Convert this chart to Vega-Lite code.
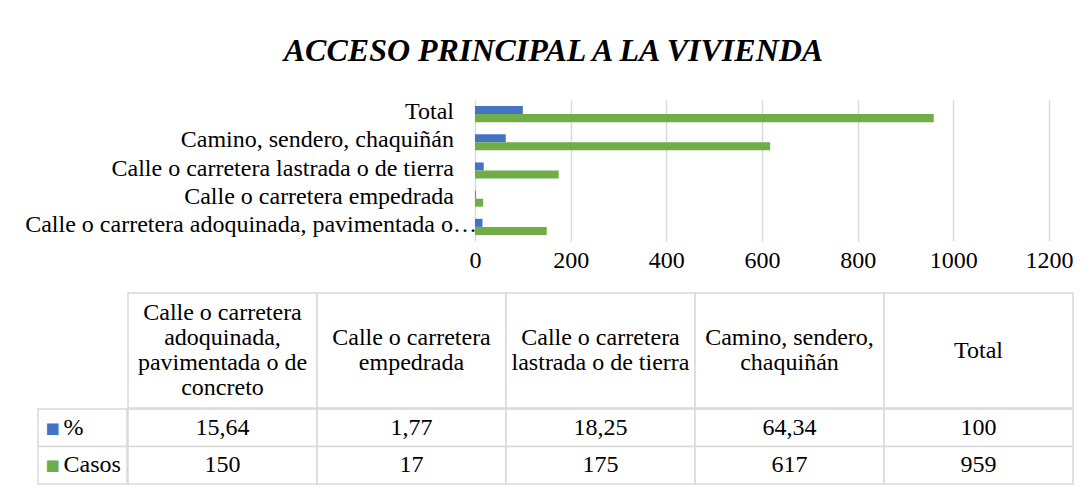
{
  "$schema": "https://vega.github.io/schema/vega-lite/v6.json",
  "background": "white",
  "padding": {"left": 25, "top": 35, "right": 8, "bottom": 5},
  "title": {
    "text": "ACCESO PRINCIPAL A LA VIVIENDA",
    "font": "Liberation Serif",
    "fontSize": 32,
    "fontStyle": "italic",
    "fontWeight": "bold",
    "color": "black",
    "anchor": "middle",
    "baseline": "top",
    "dx": 4,
    "offset": 32
  },
  "datasets": {
    "datos": [
      {"categoria": "Calle o carretera adoquinada, pavimentada o de concreto", "etiqueta": "Calle o carretera adoquinada, pavimentada o…", "cabecera": "Calle o carretera\nadoquinada,\npavimentada o de\nconcreto", "serie": "%", "valor": 15.64},
      {"categoria": "Calle o carretera adoquinada, pavimentada o de concreto", "etiqueta": "Calle o carretera adoquinada, pavimentada o…", "cabecera": "Calle o carretera\nadoquinada,\npavimentada o de\nconcreto", "serie": "Casos", "valor": 150},
      {"categoria": "Calle o carretera empedrada", "etiqueta": "Calle o carretera empedrada", "cabecera": "Calle o carretera\nempedrada", "serie": "%", "valor": 1.77},
      {"categoria": "Calle o carretera empedrada", "etiqueta": "Calle o carretera empedrada", "cabecera": "Calle o carretera\nempedrada", "serie": "Casos", "valor": 17},
      {"categoria": "Calle o carretera lastrada o de tierra", "etiqueta": "Calle o carretera lastrada o de tierra", "cabecera": "Calle o carretera\nlastrada o de tierra", "serie": "%", "valor": 18.25},
      {"categoria": "Calle o carretera lastrada o de tierra", "etiqueta": "Calle o carretera lastrada o de tierra", "cabecera": "Calle o carretera\nlastrada o de tierra", "serie": "Casos", "valor": 175},
      {"categoria": "Camino, sendero, chaquiñán", "etiqueta": "Camino, sendero, chaquiñán", "cabecera": "Camino, sendero,\nchaquiñán", "serie": "%", "valor": 64.34},
      {"categoria": "Camino, sendero, chaquiñán", "etiqueta": "Camino, sendero, chaquiñán", "cabecera": "Camino, sendero,\nchaquiñán", "serie": "Casos", "valor": 617},
      {"categoria": "Total", "etiqueta": "Total", "cabecera": "Total", "serie": "%", "valor": 100},
      {"categoria": "Total", "etiqueta": "Total", "cabecera": "Total", "serie": "Casos", "valor": 959}
    ]
  },
  "spacing": 20,
  "vconcat": [
    {
      "width": 1011,
      "height": 141,
      "data": {"name": "datos"},
      "encoding": {
        "y": {
          "field": "categoria",
          "type": "nominal",
          "sort": ["Total", "Camino, sendero, chaquiñán", "Calle o carretera lastrada o de tierra", "Calle o carretera empedrada", "Calle o carretera adoquinada, pavimentada o de concreto"],
          "scale": {"paddingInner": 0.43, "paddingOuter": 0.215},
          "axis": null
        }
      },
      "layer": [
        {
          "mark": {"type": "bar"},
          "encoding": {
            "yOffset": {"field": "serie", "type": "nominal", "sort": ["%", "Casos"], "scale": {"paddingInner": 0, "paddingOuter": 0}},
            "x": {
              "field": "valor",
              "type": "quantitative",
              "scale": {"domain": [-913.6, 1200], "nice": false, "zero": false},
              "axis": {
                "title": null,
                "values": [0, 200, 400, 600, 800, 1000, 1200],
                "format": "d",
                "ticks": false,
                "domain": false,
                "grid": true,
                "gridColor": "#d9d9d9",
                "gridWidth": 1.5,
                "labelFlush": false,
                "labelFont": "Liberation Serif",
                "labelFontSize": 24,
                "labelColor": "black",
                "labelPadding": 7
              }
            },
            "color": {"field": "serie", "type": "nominal", "scale": {"domain": ["%", "Casos"], "range": ["#4472C4", "#70AD47"]}, "legend": null}
          }
        },
        {
          "transform": [{"filter": "datum.serie == 'Casos' && datum.categoria != 'Calle o carretera adoquinada, pavimentada o de concreto'"}],
          "mark": {"type": "text", "align": "right", "baseline": "middle", "dx": -21, "dy": -2, "font": "Liberation Serif", "fontSize": 24, "color": "black"},
          "encoding": {"x": {"datum": 0, "type": "quantitative"}, "text": {"field": "etiqueta"}}
        },
        {
          "transform": [{"filter": "datum.serie == 'Casos' && datum.categoria == 'Calle o carretera adoquinada, pavimentada o de concreto'"}],
          "mark": {"type": "text", "align": "right", "baseline": "middle", "dx": 2, "dy": -2, "font": "Liberation Serif", "fontSize": 24, "color": "black"},
          "encoding": {"x": {"datum": 0, "type": "quantitative"}, "text": {"field": "etiqueta"}}
        }
      ]
    },
    {
      "spacing": -1.5,
      "hconcat": [
        {
          "spacing": -1.5,
          "vconcat": [
            {
              "width": 89,
              "height": 115,
              "data": {"values": [{}]},
              "mark": {"type": "rect", "fill": "transparent", "stroke": "transparent", "strokeWidth": 1.5},
              "encoding": {}
            },
            {
              "width": 89,
              "height": 75,
              "data": {"name": "datos"},
              "transform": [{"filter": "datum.categoria == 'Total'"}],
              "encoding": {
                "y": {
                  "field": "serie",
                  "type": "nominal",
                  "sort": ["%", "Casos"],
                  "scale": {"paddingInner": 0, "paddingOuter": 0},
                  "axis": null
                }
              },
              "layer": [
                {"mark": {"type": "rect", "fill": "white", "stroke": "#d9d9d9", "strokeWidth": 1.5}},
                {
                  "mark": {"type": "text", "text": "■", "font": "DejaVu Sans", "fontSize": 15, "align": "center", "baseline": "middle", "dx": -30},
                  "encoding": {"color": {"field": "serie", "type": "nominal", "scale": {"domain": ["%", "Casos"], "range": ["#4472C4", "#70AD47"]}, "legend": null}}
                },
                {
                  "mark": {"type": "text", "font": "Liberation Serif", "fontSize": 24, "align": "left", "baseline": "middle", "dx": -19, "color": "black"},
                  "encoding": {"text": {"field": "serie"}}
                }
              ]
            }
          ]
        },
        {
          "spacing": -1.5,
          "vconcat": [
            {
              "width": 945,
              "height": 115,
              "data": {"name": "datos"},
              "transform": [{"filter": "datum.serie == 'Casos'"}],
              "encoding": {
                "x": {
                  "field": "categoria",
                  "type": "nominal",
                  "sort": ["Calle o carretera adoquinada, pavimentada o de concreto", "Calle o carretera empedrada", "Calle o carretera lastrada o de tierra", "Camino, sendero, chaquiñán", "Total"],
                  "scale": {"paddingInner": 0, "paddingOuter": 0},
                  "axis": null
                }
              },
              "layer": [
                {"mark": {"type": "rect", "fill": "white", "stroke": "#d9d9d9", "strokeWidth": 1.5}},
                {
                  "transform": [{"filter": "datum.categoria == 'Calle o carretera adoquinada, pavimentada o de concreto'"}],
                  "mark": {"type": "text", "font": "Liberation Serif", "fontSize": 24, "lineHeight": 25, "lineBreak": "\n", "align": "center", "baseline": "middle", "dy": -37.5, "color": "black"},
                  "encoding": {"text": {"field": "cabecera"}}
                },
                {
                  "transform": [{"filter": "datum.categoria != 'Calle o carretera adoquinada, pavimentada o de concreto' && datum.categoria != 'Total'"}],
                  "mark": {"type": "text", "font": "Liberation Serif", "fontSize": 24, "lineHeight": 25, "lineBreak": "\n", "align": "center", "baseline": "middle", "dy": -12.5, "color": "black"},
                  "encoding": {"text": {"field": "cabecera"}}
                },
                {
                  "transform": [{"filter": "datum.categoria == 'Total'"}],
                  "mark": {"type": "text", "font": "Liberation Serif", "fontSize": 24, "align": "center", "baseline": "middle", "color": "black"},
                  "encoding": {"text": {"field": "cabecera"}}
                }
              ]
            },
            {
              "width": 945,
              "height": 75,
              "data": {"name": "datos"},
              "encoding": {
                "x": {
                  "field": "categoria",
                  "type": "nominal",
                  "sort": ["Calle o carretera adoquinada, pavimentada o de concreto", "Calle o carretera empedrada", "Calle o carretera lastrada o de tierra", "Camino, sendero, chaquiñán", "Total"],
                  "scale": {"paddingInner": 0, "paddingOuter": 0},
                  "axis": null
                },
                "y": {
                  "field": "serie",
                  "type": "nominal",
                  "sort": ["%", "Casos"],
                  "scale": {"paddingInner": 0, "paddingOuter": 0},
                  "axis": null
                }
              },
              "layer": [
                {"mark": {"type": "rect", "fill": "white", "stroke": "#d9d9d9", "strokeWidth": 1.5}},
                {
                  "mark": {"type": "text", "font": "Liberation Serif", "fontSize": 24, "align": "center", "baseline": "middle", "color": "black"},
                  "encoding": {"text": {"field": "valor", "type": "quantitative", "format": "~f"}}
                }
              ]
            }
          ]
        }
      ]
    }
  ],
  "config": {
    "view": {"stroke": null},
    "font": "Liberation Serif",
    "locale": {"number": {"decimal": ",", "thousands": ".", "grouping": [3], "currency": ["", " €"]}}
  }
}
